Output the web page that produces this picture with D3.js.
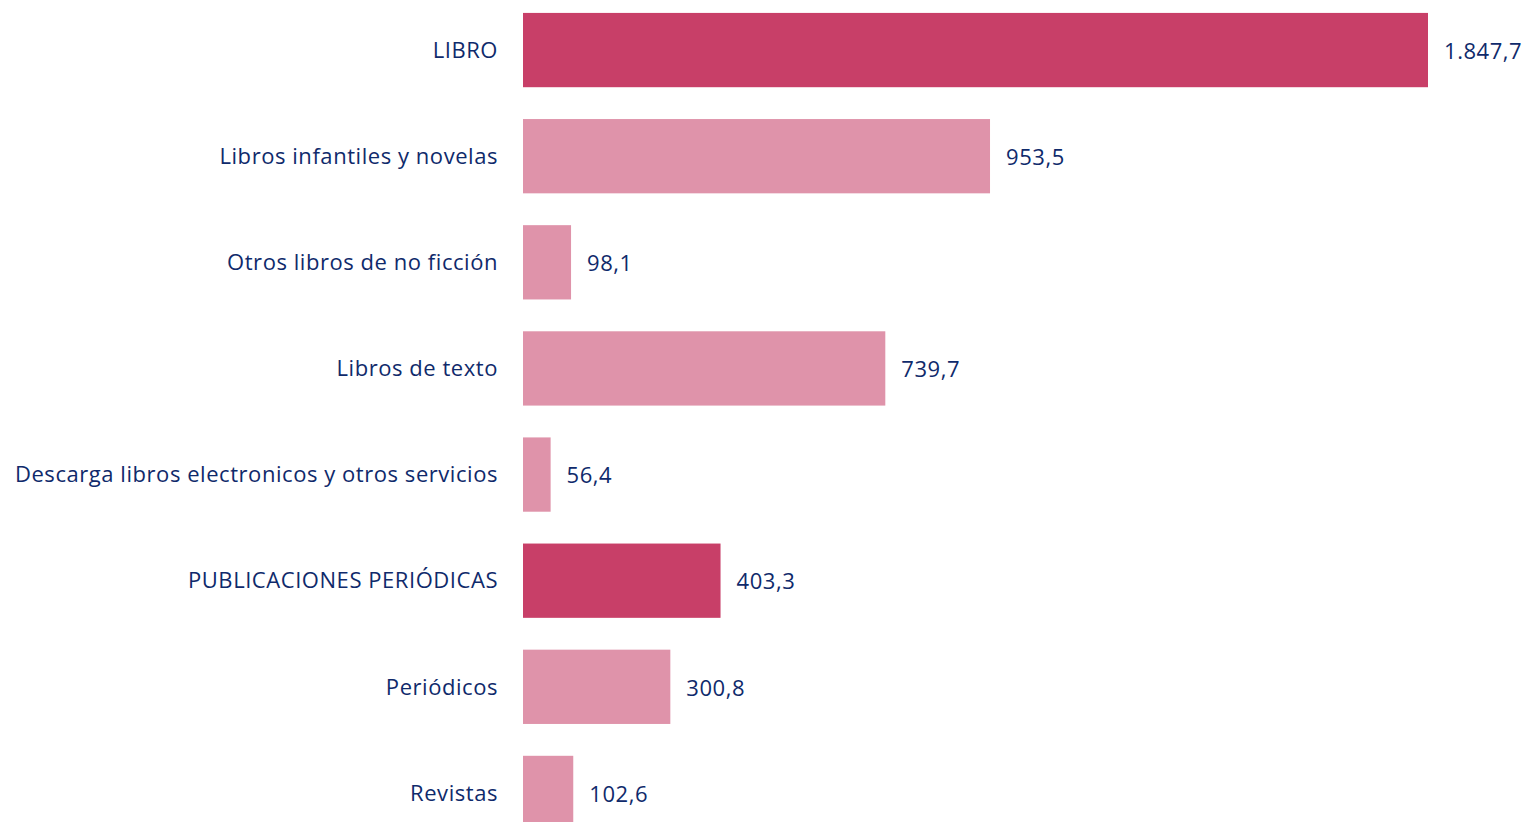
<!DOCTYPE html>
<html>
<head>
<meta charset="utf-8">
<script src="https://cdn.jsdelivr.net/npm/d3@7"></script>
<style>
    body { margin: 0; background: #fff; }
    svg text { font-family: "Open Sans", Lato, sans-serif; fill: #0f2a6b; letter-spacing: 0.55px; }
</style>
</head>
<body>
<div id="chart"></div>
<script>

var categories = [
    "LIBRO",
    "Libros infantiles y novelas",
    "Otros libros de no ficción",
    "Libros de texto",
    "Descarga libros electronicos y otros servicios",
    "PUBLICACIONES PERIÓDICAS",
    "Periódicos",
    "Revistas"
];

var values = [1847.7, 953.5, 98.1, 739.7, 56.4, 403.3, 300.8, 102.6];

// totals drawn darker
var isTotal = [true, false, false, false, false, true, false, false];

var width = 1528,
    height = 822;

var margin = {left: 523, right: 100, top: 0};

var fmt = d3.formatLocale({decimal: ",", thousands: ".", grouping: [3], currency: ["", "€"]}).format(",.1f");

var svg = d3.select("#chart").append("svg")
    .attr("width", width)
    .attr("height", height);

var x = d3.scaleLinear()
    .domain([0, 1847.7])
    .range([margin.left, 1428]);

var y = d3.scaleBand()
    .domain(categories)
    .range([-3, 846])
    .paddingInner(0.3)
    .paddingOuter(0.15);

var rows = categories.map(function (c, i) {
    return {name: c, value: values[i], total: isTotal[i]};
});

svg.selectAll(".bar")
    .data(rows)
    .enter()
    .append("rect")
    .attr("class", "bar")
    .attr("x", x(0))
    .attr("y", function (d) { return y(d.name); })
    .attr("height", y.bandwidth())
    .attr("width", function (d) { return x(d.value) - x(0); })
    .style("fill", function (d) { return d.total ? "#c83f68" : "#df93aa"; });

// category labels
svg.selectAll(".cat")
    .data(rows)
    .enter()
    .append("text")
    .attr("class", "cat")
    .attr("x", x(0) - 25)
    .attr("y", function (d) { return y(d.name) + y.bandwidth() / 2; })
    .attr("dy", "0.35em")
    .attr("text-anchor", "end")
    .style("font-size", "22px")
    .text(function (d) { return d.name; });

// value labels
svg.selectAll(".val")
    .data(rows)
    .enter()
    .append("text")
    .attr("class", "val")
    .attr("x", function (d) { return x(d.value) + 16; })
    .attr("y", function (d) { return y(d.name) + y.bandwidth() / 2 + 1; })
    .attr("dy", "0.35em")
    .style("font-size", "22px")
    .text(function (d) { return fmt(d.value); });

</script>
</body>
</html>
